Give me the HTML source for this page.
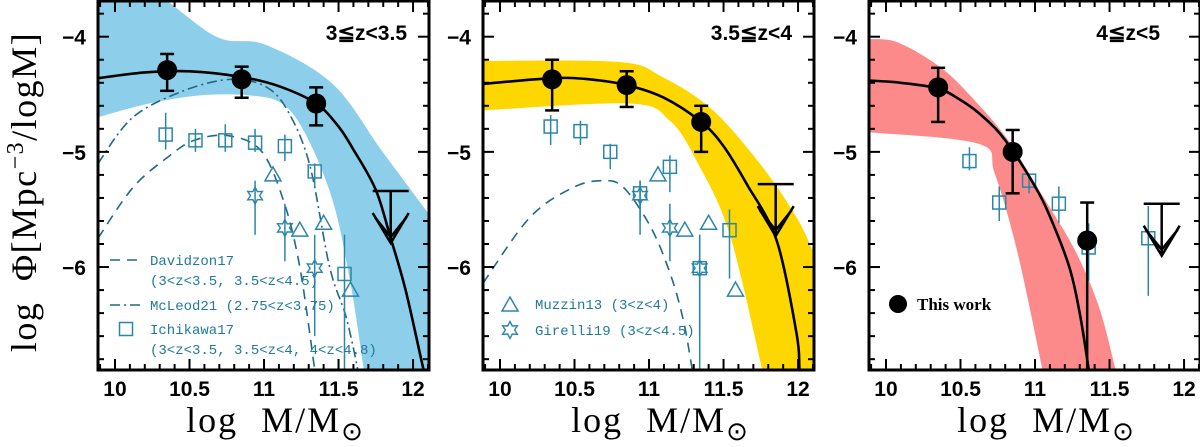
<!DOCTYPE html>
<html><head><meta charset="utf-8"><style>
html,body{margin:0;padding:0;background:#fff;}
svg{display:block;}
.tl{font-family:"Liberation Sans",sans-serif;font-weight:bold;font-size:21px;fill:#000;}
.lg{font-family:"Liberation Mono",monospace;font-size:14px;fill:#1f7a9c;}
.ttl{font-family:"Liberation Serif",serif;font-size:36px;fill:#000;}
</style></head><body>
<svg id="chart" width="1200" height="447" viewBox="0 0 1200 447" xmlns="http://www.w3.org/2000/svg">
<text class="ttl" transform="translate(36,192) rotate(-90)" text-anchor="middle" letter-spacing="1.5" word-spacing="10">log Φ[Mpc<tspan dy="-13" font-size="24">−3</tspan><tspan dy="13">/logM]</tspan></text>
</svg>
<script>
// ---- data ----
const panelLabels = ["3≦z<3.5", "3.5≦z<4", "4≦z<5"];
const panelLeft = [98, 483, 869];
const xTicks = [10, 10.5, 11, 11.5, 12];
const yTicks = [-4, -5, -6];
// This work points
const thisX = [[10.35, 10.85, 11.35], [10.35, 10.85, 11.35], [10.35, 10.85, 11.35]];
const thisY = [[-4.29, -4.37, -4.58], [-4.37, -4.42, -4.74], [-4.44, -5.0, -5.77]];
const thisHi = [[-4.15, -4.26, -4.44], [-4.2, -4.3, -4.6], [-4.27, -4.81, -5.44]];
const thisLo = [[-4.47, -4.53, -4.77], [-4.64, -4.61, -5.0], [-4.74, -5.36, -7.2]];
const limX = [11.85, 11.85, 11.85];
const limY = [-5.34, -5.28, -5.45];
// fit curves
const fitX = [
 [9.886, 10.2, 10.5, 10.85, 11.1, 11.35, 11.5, 11.6, 11.75, 11.85, 11.95, 12.07, 12.11],
 [9.886, 10.35, 10.6, 10.85, 11.1, 11.35, 11.5, 11.656, 11.857, 11.99, 12.01, 12.03],
 [9.886, 10.1, 10.35, 10.5, 10.62, 10.75, 10.85, 11.0, 11.1, 11.23, 11.3, 11.36, 11.38]];
const fitY = [
 [-4.36, -4.31, -4.30, -4.35, -4.43, -4.58, -4.78, -4.98, -5.33, -5.75, -6.2, -6.89, -7.1],
 [-4.41, -4.36, -4.37, -4.42, -4.53, -4.74, -4.95, -5.28, -5.77, -6.58, -6.89, -7.1],
 [-4.38, -4.40, -4.45, -4.55, -4.66, -4.82, -4.99, -5.3, -5.56, -6.0, -6.4, -6.89, -7.1]];
// uncertainty bands (upper then lower edges)
const bandUpX = [[9.886, 10.23, 10.68, 11.01, 11.46, 11.79, 12.107], [9.886, 10.8, 11.09, 11.43, 11.76, 11.99, 12.107], [9.886, 10.08, 10.37, 10.6, 10.82, 11.04, 11.27, 11.43, 11.54]];
const bandUpY = [[-3.6, -3.6, -4.0, -4.07, -4.41, -4.99, -5.54], [-4.21, -4.22, -4.35, -4.64, -5.13, -5.57, -5.88], [-4.02, -4.05, -4.27, -4.56, -4.9, -5.36, -5.86, -6.35, -6.89]];
const bandLoX = [[9.886, 10.23, 10.57, 10.9, 11.12, 11.28, 11.46, 11.58, 11.67], [9.886, 10.87, 11.14, 11.32, 11.54, 11.76], [9.886, 10.62, 10.73, 10.88, 11.05]];
const bandLoY = [[-4.70, -4.58, -4.51, -4.51, -4.58, -4.85, -5.42, -6.14, -6.89], [-4.64, -4.58, -4.73, -5.08, -5.71, -6.89], [-4.83, -4.93, -5.19, -5.86, -6.89]];
const bandColor = ["#8dcfea", "#ffd700", "#fd8a8a"];
// Davidzon17 (dashed)
const davX = [[9.886, 10.12, 10.35, 10.53, 10.76, 10.98, 11.13, 11.24, 11.34], [9.886, 10.2, 10.49, 10.69, 10.83, 11.01, 11.14, 11.23, 11.29]];
const davY = [[-5.75, -5.31, -5.05, -4.9, -4.86, -4.99, -5.42, -6.0, -6.89], [-6.14, -5.57, -5.31, -5.25, -5.31, -5.65, -6.05, -6.46, -6.89]];
// McLeod21 (dash-dot)
const mclX = [9.886, 10.12, 10.46, 10.78, 11.02, 11.17, 11.31, 11.44, 11.55, 11.63];
const mclY = [-5.10, -4.70, -4.47, -4.37, -4.44, -4.67, -5.13, -6.0, -6.43, -6.89];
// Ichikawa17 squares
const ichX = [[10.34, 10.54, 10.74, 10.94, 11.14, 11.34, 11.54], [10.34, 10.54, 10.74, 10.94, 11.14, 11.34, 11.54], [10.56, 10.76, 10.96, 11.16, 11.36, 11.76]];
const ichY = [[-4.85, -4.90, -4.90, -4.92, -4.95, -5.17, -6.06], [-4.78, -4.82, -5.0, -5.36, -5.13, -6.01, -5.68], [-5.08, -5.44, -5.25, -5.45, -5.83, -5.75]];
const ichHi = [[-4.66, -4.8, -4.76, -4.8, -4.85, -5.1, -5.72], [-4.68, -4.73, -4.93, -5.25, -5.03, -5.72, -5.5], [-4.96, -5.3, -5.2, -5.3, -5.62, -5.47]];
const ichLo = [[-4.98, -5.0, -5.0, -5.0, -5.08, -5.3, -7.2], [-4.94, -4.94, -5.15, -5.6, -5.35, -7.2, -6.1], [-5.16, -5.6, -5.36, -5.62, -6.12, -6.25]];
// Muzzin13 triangles
const muzX = [11.06, 11.24, 11.40, 11.58];
const muzY = [-5.20, -5.68, -5.62, -6.2];
// Girelli19 stars
const girX = [10.94, 11.14, 11.34];
const girY = [-5.38, -5.66, -6.01];
const girHi = [-5.25, -5.45, -5.72];
const girLo = [-5.72, -5.95, -6.6];

// ---- drawing ----
const NS = "http://www.w3.org/2000/svg";
const svg = document.getElementById("chart");
const PW = 331, PT = 1, PB = 370;
const XMIN = 9.886, XMAX = 12.107, YMAX = -3.69, YMIN = -6.894;
const TEAL = "#2b86a8", DTEAL = "#1e6a87";
function mk(tag, attrs, parent) {
  const e = document.createElementNS(NS, tag);
  for (const k in attrs) e.setAttribute(k, attrs[k]);
  (parent || svg).appendChild(e);
  return e;
}
function sy(v) { return PT + (YMAX - v) / (YMAX - YMIN) * (PB - PT); }
function smoothSeg(xs, ys, sx, start) {
  const p = xs.map((x, i) => [sx(x), sy(ys[i])]);
  let d = start + p[0][0].toFixed(1) + "," + p[0][1].toFixed(1);
  for (let i = 0; i < p.length - 1; i++) {
    const p0 = p[i - 1] || p[i], p1 = p[i], p2 = p[i + 1], p3 = p[i + 2] || p2;
    const c1 = [p1[0] + (p2[0] - p0[0]) / 6, p1[1] + (p2[1] - p0[1]) / 6];
    const c2 = [p2[0] - (p3[0] - p1[0]) / 6, p2[1] - (p3[1] - p1[1]) / 6];
    d += "C" + c1.map(v => v.toFixed(1)).join(",") + " " + c2.map(v => v.toFixed(1)).join(",") + " " + p2.map(v => v.toFixed(1)).join(",");
  }
  return d;
}
function smoothD(xs, ys, sx) { return smoothSeg(xs, ys, sx, "M"); }
function square(g, x, y) { const r = mk("rect", { x: x - 6.5, y: y - 6.5, width: 13, height: 13, fill: "none", stroke: TEAL, "stroke-width": 1.5 }, g);   }
function tri(g, x, y) { const t = mk("polygon", { points: `${x},${y - 8} ${x - 8},${y + 6} ${x + 8},${y + 6}`, fill: "none", stroke: TEAL, "stroke-width": 1.5 }, g);   }
function star(g, x, y) {
  let pts = [];
  for (let k = 0; k < 12; k++) { const a = Math.PI / 6 * k - Math.PI / 2; const r = k % 2 ? 4.6 : 8.5; pts.push((x + r * Math.cos(a)).toFixed(1) + "," + (y + r * Math.sin(a)).toFixed(1)); }
  const s = mk("polygon", { points: pts.join(" "), fill: "none", stroke: TEAL, "stroke-width": 1.4 }, g);
   
}
function vbar(g, x, y1, y2, col, w) { mk("line", { x1: x, x2: x, y1: y1, y2: y2, stroke: col, "stroke-width": w }, g); }

for (let p = 0; p < 3; p++) {
  const L = panelLeft[p];
  const sx = v => L + (v - XMIN) / (XMAX - XMIN) * PW;
  const pg = mk("g", {});
  
  
  const cp = mk("clipPath", { id: "cp" + p }, pg);
  mk("rect", { x: L, y: PT, width: PW, height: PB - PT }, cp);
  const g = mk("g", { "clip-path": `url(#cp${p})` }, pg);
  // band
  let d = smoothSeg(bandUpX[p], bandUpY[p], sx, "M");
  d += "L" + sx(12.2) + "," + sy(bandUpY[p][bandUpY[p].length - 1]) + "L" + sx(12.2) + "," + (PB + 5) + "L" + sx(bandLoX[p][bandLoX[p].length - 1]) + "," + (PB + 5);
  const lx = bandLoX[p].slice().reverse(), ly = bandLoY[p].slice().reverse();
  d += smoothSeg(lx, ly, sx, "L") + "Z";
  const band = mk("path", { d: d, fill: bandColor[p] }, g);
  
  
  // literature lines
  if (p < 2) {
    const dl = mk("path", { d: smoothD(davX[p], davY[p], sx), fill: "none", stroke: DTEAL, "stroke-width": 1.6, "stroke-dasharray": "10,7" }, g);
    
    
  }
  if (p === 0) {
    const ml = mk("path", { d: smoothD(mclX, mclY, sx), fill: "none", stroke: DTEAL, "stroke-width": 1.6, "stroke-dasharray": "10,4,2,4" }, g);
    
    
  }
  // Ichikawa
  ichX[p].forEach((x, i) => { vbar(g, sx(x), sy(ichHi[p][i]), sy(ichLo[p][i]), TEAL, 1.5); square(g, sx(x), sy(ichY[p][i])); });
  if (p < 2) {
    muzX.forEach((x, i) => tri(g, sx(x), sy(muzY[i])));
    girX.forEach((x, i) => { vbar(g, sx(x), sy(girHi[i]), sy(girLo[i]), TEAL, 1.5); star(g, sx(x), sy(girY[i])); });
  }
  // fit
  const fl = mk("path", { d: smoothD(fitX[p], fitY[p], sx), fill: "none", stroke: "#000", "stroke-width": 2.6 }, g);
  
  
  // this work
  thisX[p].forEach((x, i) => {
    const cx = sx(x);
    vbar(g, cx, sy(thisHi[p][i]), sy(thisLo[p][i]), "#000", 2.5);
    mk("line", { x1: cx - 7, x2: cx + 7, y1: sy(thisHi[p][i]), y2: sy(thisHi[p][i]), stroke: "#000", "stroke-width": 2.5 }, g);
    mk("line", { x1: cx - 7, x2: cx + 7, y1: sy(thisLo[p][i]), y2: sy(thisLo[p][i]), stroke: "#000", "stroke-width": 2.5 }, g);
    const c = mk("circle", { cx: cx, cy: sy(thisY[p][i]), r: 10, fill: "#000" }, g);
    
    
  });
  // upper limit
  const ux = sx(limX[p]), uy = sy(limY[p]), tip = uy + 52;
  const ul = mk("g", { stroke: "#000", "stroke-width": 2.5, fill: "none" }, g);
  
  
  mk("line", { x1: ux - 18, x2: ux + 18, y1: uy, y2: uy }, ul);
  mk("line", { x1: ux, x2: ux, y1: uy, y2: tip }, ul);
  mk("polyline", { points: `${ux - 18},${tip - 30} ${ux},${tip} ${ux + 18},${tip - 30}` }, ul);
  mk("polyline", { points: `${ux - 16},${tip - 26} ${ux},${tip - 6} ${ux + 16},${tip - 26}` }, ul);
  // frame
  const fr = mk("rect", { x: L, y: PT, width: PW, height: PB - PT, fill: "none", stroke: "#000", "stroke-width": 3 }, pg);
  
  
  // ticks
  for (let t = 99; t <= 121; t++) {
    const v = t / 10; if (v < XMIN || v > XMAX) continue;
    const len = (t % 5 === 0) ? 11 : 6, X = sx(v);
    mk("line", { x1: X, x2: X, y1: PB, y2: PB - len, stroke: "#000", "stroke-width": 2 }, pg);
    mk("line", { x1: X, x2: X, y1: PT, y2: PT + len, stroke: "#000", "stroke-width": 2 }, pg);
  }
  for (let t = -68; t <= -38; t += 2) {
    const v = t / 10, len = (t % 10 === 0) ? 11 : 6, Y = sy(v);
    mk("line", { x1: L, x2: L + len, y1: Y, y2: Y, stroke: "#000", "stroke-width": 2 }, pg);
    mk("line", { x1: L + PW, x2: L + PW - len, y1: Y, y2: Y, stroke: "#000", "stroke-width": 2 }, pg);
  }
  xTicks.forEach(v => {
    const t = mk("text", { x: sx(v), y: 396, class: "tl", "text-anchor": "middle" }, pg);
    
    
    t.textContent = String(v);
  });
  yTicks.forEach(v => {
    const t = mk("text", { x: L - 12, y: sy(v) + 8, class: "tl", "text-anchor": "end" }, pg);
    
    
    t.textContent = "−" + Math.abs(v);
  });
  const pl = mk("text", { x: L + PW - 22 - (p === 2 ? 18 : 0), y: 40, class: "tl", "text-anchor": "end" }, pg);
  
  
  pl.textContent = panelLabels[p];
  const xt = mk("text", { x: L + PW / 2 + 12, y: 432, class: "ttl", "text-anchor": "middle", "letter-spacing": "2", "word-spacing": "12" }, pg);
  
  
  xt.innerHTML = 'log M/M<tspan font-size="26" dy="8">⊙</tspan>';
}
// legends
function lgText(x, y, s, cls) {
  const t = mk("text", { x: x, y: y, class: cls || "lg" });
  
  
  t.textContent = s;
  return t;
}
mk("line", { x1: 110, x2: 142, y1: 260, y2: 260, stroke: DTEAL, "stroke-width": 1.6, "stroke-dasharray": "10,7" });
lgText(150, 265, "Davidzon17");
lgText(150, 285, "(3<z<3.5, 3.5<z<4.5)");
mk("line", { x1: 110, x2: 142, y1: 305, y2: 305, stroke: DTEAL, "stroke-width": 1.6, "stroke-dasharray": "10,4,2,4" });
lgText(150, 310, "McLeod21 (2.75<z<3.75)");
square(svg, 126, 329);
lgText(150, 334, "Ichikawa17");
lgText(150, 354, "(3<z<3.5, 3.5<z<4, 4<z<4.8)");
tri(svg, 510, 305);
lgText(535, 309, "Muzzin13 (3<z<4)");
star(svg, 510, 330);
lgText(535, 335, "Girelli19 (3<z<4.5)");
const lc = mk("circle", { cx: 898, cy: 304, r: 9, fill: "#000" });


const tw = lgText(917, 310, "This work");
tw.setAttribute("style", "font-family:'Liberation Serif',serif;font-size:17px;font-weight:bold;fill:#000");
</script>
</body></html>
